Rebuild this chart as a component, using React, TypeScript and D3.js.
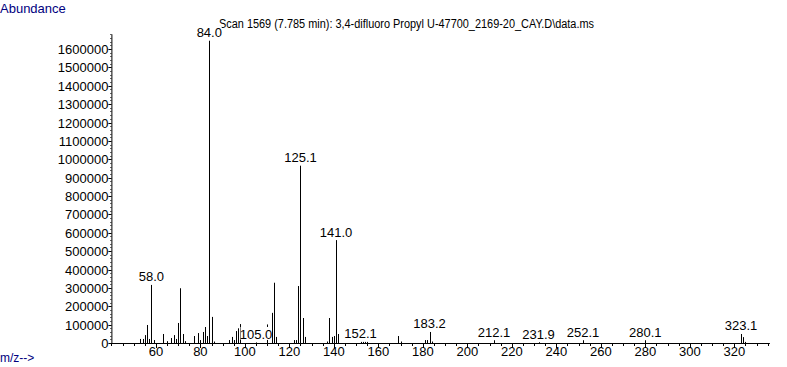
import React from "react";
import * as d3 from "d3";

const mzValues = [53,54,55,56,57,58,59,63,65,67,68,69,70,71,72,73,77,79,80,81,82,83,84,85,86,93,94,95,96,97,98,105,110,112,113,114,122,123,124,125,126,127,137,138,139,140,141,142,152,153,154,155,169,170,181,182,183,184,212,232,252,280,323,324,325];
const abundances = [22000,22000,43000,98000,22000,316000,16000,49000,10000,27000,43000,22000,109000,298000,49000,10000,38000,54000,16000,60000,87000,38000,1645000,142000,8000,16000,33000,16000,65000,80000,103000,3000,101000,164000,328000,33000,16000,16000,310000,965000,136000,33000,8000,136000,33000,38000,560000,49000,6000,6000,6000,6000,38000,8000,16000,16000,60000,8000,15000,4000,15000,15000,49000,32000,6000];

const labelMz = [58,84,105,125,141,152,183,212,232,252,280,323];
const labelText = ["58.0","84.0","105.0","125.1","141.0","152.1","183.2","212.1","231.9","252.1","280.1","323.1"];

const xTickValues = [60,80,100,120,140,160,180,200,220,240,260,280,300,320];
const yTickValues = [0,100000,200000,300000,400000,500000,600000,700000,800000,900000,1000000,1100000,1200000,1300000,1400000,1500000,1600000];

const titleText = "Scan 1569 (7.785 min): 3,4-difluoro Propyl U-47700_2169-20_CAY.D\\data.ms";

export default function App() {
  const W = 787, H = 367;
  const x = d3.scaleLinear().domain([40, 336]).range([111.4, 769.9]);
  const y = d3.scaleLinear().domain([0, 1680000]).range([343, 34.3]);
  const font = "'Liberation Sans', Arial, sans-serif";
  const blue = "#000080";
  const x0 = x.range()[0];
  const base = y(0);
  const minorY = d3.range(0, 1680001, 20000);
  const minorX = d3.range(40, 337, 5);
  const labelMap = new Map(mzValues.map((m, i) => [m, abundances[i]]));

  return (
    <svg width={W} height={H} style={{ position: "absolute", left: 0, top: 0, background: "#fff" }} fontFamily={font}>
      <rect x={0} y={0} width={W} height={H} fill="#fff" />
      <text x={0} y={13} fontSize={13} fill={blue}>Abundance</text>
      <text x={0} y={362} fontSize={12} fill={blue}>m/z--&gt;</text>
      <text x={219} y={28} fontSize={12} fill="#000" textLength={375} lengthAdjust="spacingAndGlyphs">{titleText}</text>

      {/* peaks */}
      {mzValues.map((m, i) => (
        <line key={"p" + i} x1={Math.round(x(m)) + 0.5} x2={Math.round(x(m)) + 0.5} y1={base} y2={y(abundances[i])} stroke="#000" strokeWidth={1} />
      ))}

      {/* peak labels */}
      {labelMz.map((m, i) => {
        const v = labelMap.get(m) ?? 0;
        const ty = y(v) - 3.5;
        const tw = labelText[i].length * 6.2;
        return (
          <g key={"l" + i}>
            <rect x={x(m) - tw / 2} y={ty - 12} width={tw} height={13} fill="#fff" />
            <text x={x(m)} y={ty} fontSize={13} textAnchor="middle" fill="#000">{labelText[i]}</text>
          </g>
        );
      })}

      {/* y axis */}
      <line x1={x0 + 0.5} x2={x0 + 0.5} y1={y(1680000)} y2={base} stroke="#000" />
      {minorY.map((v, i) => (
        <line key={"my" + i} x1={x0 - 1} x2={x0} y1={Math.round(y(v)) + 0.5} y2={Math.round(y(v)) + 0.5} stroke="#000" />
      ))}
      {yTickValues.map((v, i) => (
        <g key={"yt" + i}>
          <line x1={x0 - 3} x2={x0} y1={Math.round(y(v)) + 0.5} y2={Math.round(y(v)) + 0.5} stroke="#000" />
          <text x={x0 - 3} y={y(v) + 5} fontSize={13} textAnchor="end" fill="#000">{v}</text>
        </g>
      ))}

      {/* x axis */}
      <line x1={x0} x2={x.range()[1]} y1={base + 0.5} y2={base + 0.5} stroke="#000" />
      {minorX.map((v, i) => (
        <line key={"mx" + i} x1={Math.round(x(v)) + 0.5} x2={Math.round(x(v)) + 0.5} y1={base} y2={base + 3} stroke="#000" />
      ))}
      {xTickValues.map((v, i) => (
        <g key={"xt" + i}>
          <line x1={Math.round(x(v)) + 0.5} x2={Math.round(x(v)) + 0.5} y1={base} y2={base + 5} stroke="#000" />
          <text x={x(v)} y={base + 13} fontSize={13} textAnchor="middle" fill="#000">{v}</text>
        </g>
      ))}
    </svg>
  );
}
